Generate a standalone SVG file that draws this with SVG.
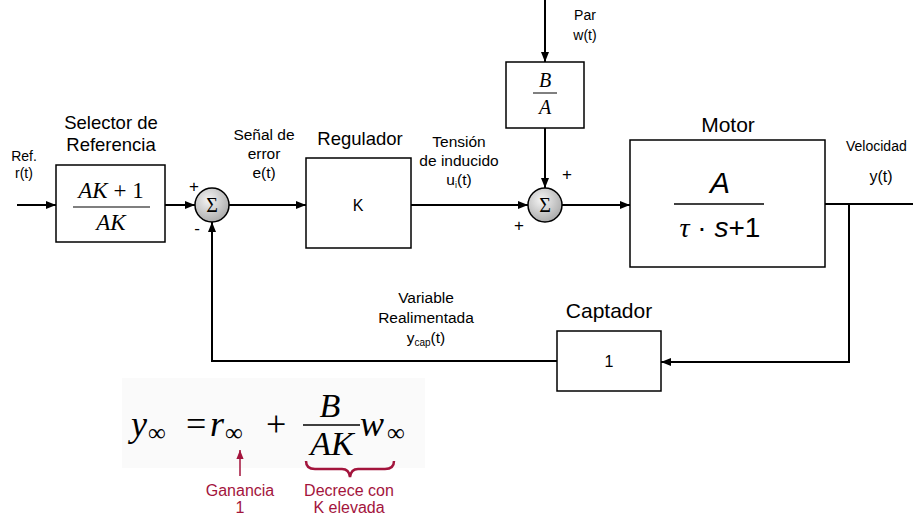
<svg xmlns="http://www.w3.org/2000/svg" width="913" height="517" viewBox="0 0 913 517">
<style>
.blk{fill:#fff;stroke:#000;stroke-width:1.5}
.ln{fill:none;stroke:#000;stroke-width:2}
.t{font-family:"Liberation Sans",Arial,sans-serif;fill:#000;text-anchor:middle}
.s14{font-size:14px}
.s15{font-size:15.5px}
.s18{font-size:18.5px}
.s21{font-size:21px}
.m{font-family:"Liberation Serif","Times New Roman",serif;font-style:italic;fill:#000}
.r{font-family:"Liberation Serif","Times New Roman",serif;fill:#000}
.red{font-family:"Liberation Sans",Arial,sans-serif;font-size:16px;fill:#a3143c;text-anchor:middle}
.sum{fill:url(#g);stroke:#000;stroke-width:1.5}
.sig{font-family:"Liberation Serif","Times New Roman",serif;font-size:20px;text-anchor:middle}
</style>
<defs>
<radialGradient id="g" cx="0.4" cy="0.35" r="0.7">
<stop offset="0" stop-color="#f4f4f4"/>
<stop offset="1" stop-color="#a8a8a8"/>
</radialGradient>
<marker id="a" viewBox="0 0 10 10" refX="10" refY="5" markerWidth="10" markerHeight="10" markerUnits="userSpaceOnUse" orient="auto">
<path d="M0,1 L10,5 L0,9 Z" fill="#000"/>
</marker>
<marker id="ar" viewBox="0 0 10 10" refX="10" refY="5" markerWidth="9" markerHeight="9" markerUnits="userSpaceOnUse" orient="auto">
<path d="M0,1 L10,5 L0,9 Z" fill="#a3143c"/>
</marker>
</defs>
<rect width="913" height="517" fill="#fff"/>

<g id="connectors">
<line class="ln" x1="17" y1="205" x2="56" y2="205" marker-end="url(#a)"/>
<line class="ln" x1="165" y1="205" x2="195" y2="205" marker-end="url(#a)"/>
<line class="ln" x1="229" y1="205" x2="306" y2="205" marker-end="url(#a)"/>
<line class="ln" x1="411" y1="205" x2="528" y2="205" marker-end="url(#a)"/>
<line class="ln" x1="545" y1="0" x2="545" y2="62" marker-end="url(#a)"/>
<line class="ln" x1="545" y1="128" x2="545" y2="188" marker-end="url(#a)"/>
<line class="ln" x1="562" y1="205" x2="630" y2="205" marker-end="url(#a)"/>
<line class="ln" x1="825" y1="204" x2="913" y2="204"/>
<polyline class="ln" points="849,204 849,362 661,362" marker-end="url(#a)"/>
<polyline class="ln" points="557,361 212,361 212,222" marker-end="url(#a)"/>
</g>

<g id="selector">
<rect class="blk" x="56" y="165" width="109" height="77"/>
<text x="111" y="198" font-size="23" text-anchor="middle"><tspan class="m">AK</tspan><tspan class="r"> + 1</tspan></text>
<line x1="73" y1="207" x2="150" y2="207" stroke="#000" stroke-width="1.2"/>
<text class="m" x="111" y="230" font-size="23" text-anchor="middle">AK</text>
<text class="t s18" x="111" y="129">Selector de</text>
<text class="t s18" x="111" y="151">Referencia</text>
</g>

<g id="sum1">
<circle class="sum" cx="212" cy="205" r="17"/>
<text class="sig" x="212" y="212">Σ</text>
<text class="t" x="194" y="192" font-size="17">+</text>
<text class="t" x="197" y="234" font-size="17">-</text>
</g>

<g id="regulador">
<rect class="blk" x="306" y="158" width="105" height="90"/>
<text class="t" x="358" y="211" font-size="16">K</text>
<text class="t s18" x="360" y="145">Regulador</text>
</g>

<g id="ba">
<rect class="blk" x="506" y="62" width="78" height="66"/>
<text class="m" x="545" y="87" font-size="20" text-anchor="middle">B</text>
<line x1="533" y1="93" x2="557" y2="93" stroke="#000" stroke-width="1"/>
<text class="m" x="545" y="114" font-size="20" text-anchor="middle">A</text>
</g>

<g id="sum2">
<circle class="sum" cx="545" cy="205" r="17"/>
<text class="sig" x="545" y="212">Σ</text>
<text class="t" x="567" y="180" font-size="17">+</text>
<text class="t" x="519" y="231" font-size="17">+</text>
</g>

<g id="motor">
<rect class="blk" x="630" y="140" width="195" height="127"/>
<text x="720" y="193" font-family="Liberation Sans,Arial,sans-serif" font-style="italic" font-size="30" text-anchor="middle">A</text>
<line x1="674" y1="204" x2="764" y2="204" stroke="#000" stroke-width="1.3"/>
<text x="720" y="237" font-size="28" text-anchor="middle"><tspan font-family="Liberation Serif,serif" font-style="italic">τ</tspan><tspan font-family="Liberation Sans,sans-serif"> · </tspan><tspan font-family="Liberation Sans,sans-serif" font-style="italic">s</tspan><tspan font-family="Liberation Sans,sans-serif">+1</tspan></text>
<text class="t s21" x="728" y="132">Motor</text>
</g>

<g id="captador">
<rect class="blk" x="557" y="331" width="104" height="60"/>
<text class="t" x="609" y="367" font-size="16">1</text>
<text class="t s21" x="609" y="318">Captador</text>
</g>

<g id="labels">
<text class="t s14" x="24" y="161">Ref.</text>
<text class="t s14" x="24" y="178">r(t)</text>
<text class="t s15" x="264" y="140">Señal de</text>
<text class="t s15" x="264" y="159">error</text>
<text class="t s15" x="264" y="178">e(t)</text>
<text class="t s15" x="459" y="147">Tensión</text>
<text class="t s15" x="459" y="166">de inducido</text>
<text class="t s15" x="459" y="185">u<tspan font-size="9" dy="3">i</tspan><tspan dy="-3">(t)</tspan></text>
<text class="t s14" x="585" y="20">Par</text>
<text class="t s14" x="585" y="40">w(t)</text>
<text x="846" y="151" font-family="Liberation Sans,Arial,sans-serif" font-size="14">Velocidad</text>
<text class="t" x="881" y="182" font-size="16">y(t)</text>
<text class="t s15" x="426" y="303">Variable</text>
<text class="t s15" x="426" y="323">Realimentada</text>
<text class="t s15" x="426" y="343">y<tspan font-size="10" dy="3">cap</tspan><tspan dy="-3">(t)</tspan></text>
</g>

<g id="formula">
<rect x="122" y="378" width="303" height="90" fill="#fafafa"/>
<text class="m" x="131" y="436" font-size="36">y</text>
<text class="r" x="148" y="441" font-size="25">∞</text>
<text class="r" x="186" y="436" font-size="36">=</text>
<text class="m" x="210" y="436" font-size="36">r</text>
<text class="r" x="225" y="441" font-size="25">∞</text>
<text class="r" x="266" y="436" font-size="36">+</text>
<text class="m" x="330" y="417" font-size="34" text-anchor="middle">B</text>
<line x1="303" y1="425" x2="360" y2="425" stroke="#000" stroke-width="1.3"/>
<text class="m" x="332" y="455" font-size="34" text-anchor="middle">AK</text>
<text class="m" x="360" y="436" font-size="36">w</text>
<text class="r" x="387" y="441" font-size="25">∞</text>
<line x1="240" y1="476" x2="240" y2="450" stroke="#a3143c" stroke-width="1.5" marker-end="url(#ar)"/>
<path d="M306,461 Q306,469 315,469 L342,469 Q349,469 350,477 Q351,469 358,469 L385,469 Q394,469 394,461" fill="none" stroke="#a3143c" stroke-width="2.5"/>
<text class="red" x="240" y="496">Ganancia</text>
<text class="red" x="240" y="513">1</text>
<text class="red" x="349" y="496">Decrece con</text>
<text class="red" x="349" y="513">K elevada</text>
</g>
</svg>
